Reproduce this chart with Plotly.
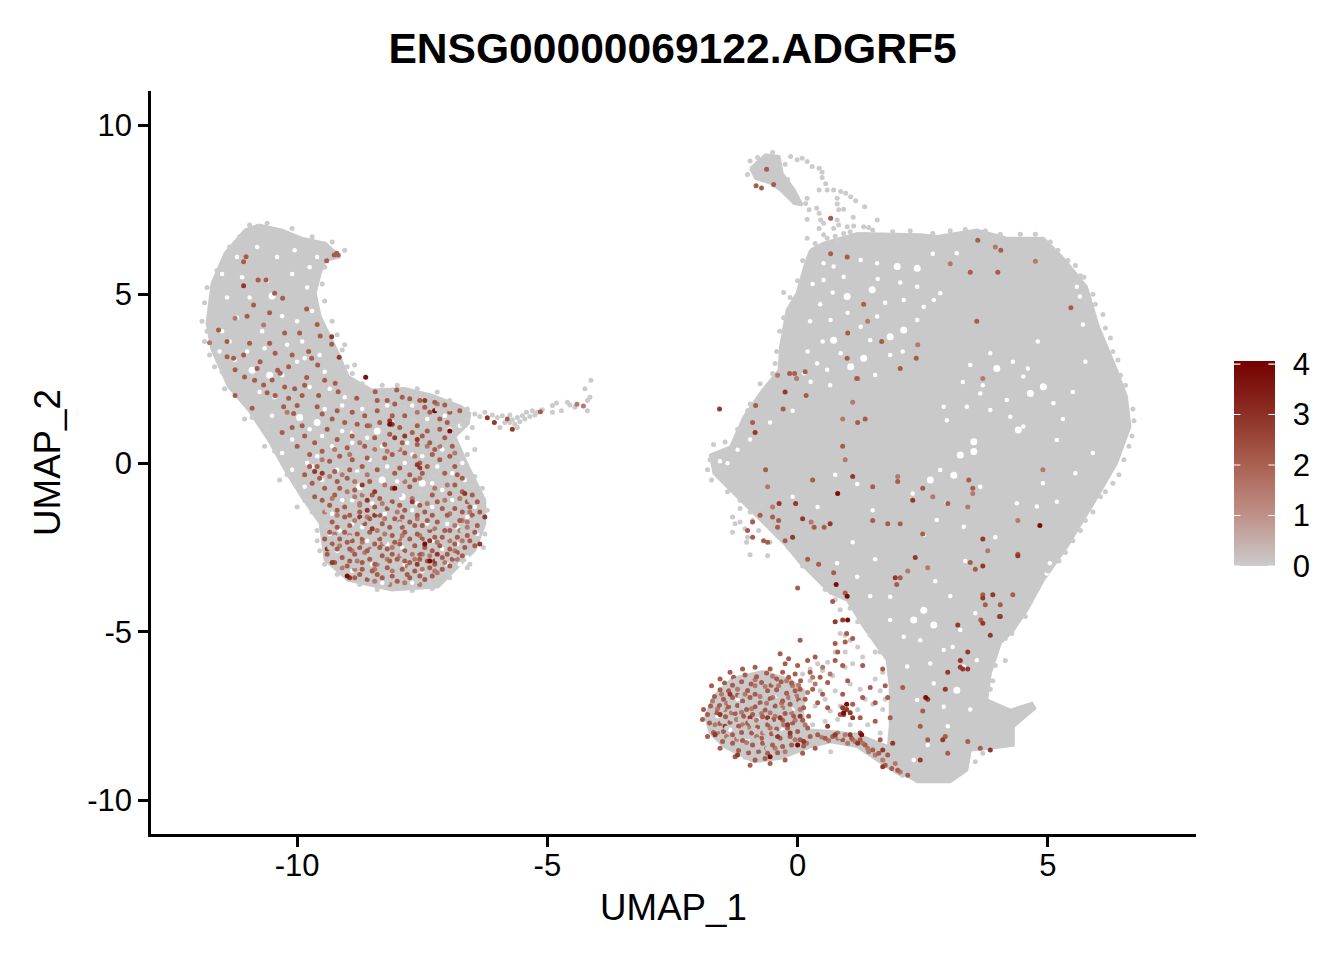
import plotly.graph_objects as go

TITLE = "ENSG00000069122.ADGRF5"
X_TICKS = [-10, -5, 0, 5]
Y_TICKS = [-10, -5, 0, 5, 10]
BAR_TICKS = [0, 1, 2, 3, 4]

# Outlines of the areas where unexpressing grey cells overlap completely (UMAP units, estimated)
left_outline = [(-10.77,7.05),(-10.30,6.90),(-9.91,6.66),(-9.44,6.51),(-9.14,6.11),(-9.44,6.0),(-9.54,5.62),(-9.64,5.03),
 (-9.54,4.34),(-9.37,3.84),(-9.18,3.25),(-8.98,2.56),(-8.51,2.16),(-7.85,2.21),(-7.31,2.01),(-6.72,1.67),(-6.55,1.47),
 (-6.58,1.17),(-6.85,0.78),(-6.58,-0.11),(-6.25,-1.10),(-6.25,-1.79),(-6.45,-2.58),(-6.85,-3.17),(-7.18,-3.67),(-8.11,-3.76),
 (-8.98,-3.47),(-9.44,-2.87),(-9.54,-1.79),(-9.91,-1.0),(-10.24,-0.21),(-10.57,0.68),(-10.97,1.57),(-11.37,2.26),(-11.70,3.35),
 (-11.80,4.14),(-11.70,5.32),(-11.44,6.21),(-11.04,6.90)]
main_outline = [(0.26,6.31),(0.52,6.51),(1.19,6.80),(2.45,6.76),(2.79,6.71),(3.58,6.90),(4.18,6.66),(4.91,6.66),(5.31,6.06),
 (5.77,5.22),(6.01,4.04),(6.37,2.76),(6.57,1.97),(6.64,1.08),(6.37,-0.01),(5.91,-1.19),(5.38,-2.48),(4.91,-3.47),(4.58,-4.36),
 (4.31,-4.95),(4.05,-5.34),(3.85,-6.23),(3.78,-7.02),(4.25,-7.32),(4.68,-7.12),(4.74,-7.27),(4.31,-7.81),(4.31,-8.36),(3.85,-8.45),
 (3.45,-8.50),(3.38,-9.10),(3.05,-9.44),(2.39,-9.44),(2.12,-9.2),(1.79,-8.8),(1.85,-7.81),(1.85,-6.63),(1.79,-5.84),(1.32,-4.85),
 (0.99,-4.06),(0.66,-3.86),(0.06,-2.97),(-0.27,-2.38),(-0.80,-1.59),(-1.27,-0.90),(-1.67,-0.31),(-1.74,0.24),(-1.34,0.48),
 (-1.07,1.37),(-0.70,2.16),(-0.37,2.75),(-0.34,3.45),(-0.21,4.53),(-0.01,5.03),(0.16,5.92)]
top_outline = [(-0.94,8.73),(-0.64,9.13),(-0.37,9.08),(-0.31,8.58),(-0.07,8.09),(0.09,7.64),(-0.07,7.69),(-0.34,8.09),(-0.54,8.29),(-0.84,8.43)]
blob_outline = [(-1.84,-7.52),(-1.67,-6.92),(-1.30,-6.38),(-0.70,-6.18),(-0.14,-6.43),(0.13,-6.75),(0.10,-7.4),(0.15,-7.9),(0.66,-7.95),
 (1.2,-8.05),(1.8,-8.4),(2.0,-8.9),(2.12,-9.3),(1.79,-9.0),(1.19,-8.4),(0.66,-8.26),(0.26,-8.40),(-0.34,-8.75),(-0.87,-8.85),(-1.47,-8.4),(-1.74,-8.01)]

# Individually visible grey cells
grey_cells = [
 # stalk above the main cluster
 (-0.14,9.08),(-0.01,8.98),(0.09,9.03),(0.19,8.93),(0.29,8.78),(0.43,8.73),(0.49,8.61),(0.49,8.46),(0.56,8.27),(0.43,8.09),
 (0.59,8.09),(0.72,8.09),(0.86,8.04),(0.96,7.99),(1.06,7.89),(1.16,7.77),(0.79,7.84),(0.79,7.67),(0.82,7.5),(0.92,7.52),
 (1.34,7.59),(1.59,7.2),(0.19,7.84),(0.16,7.69),(0.23,7.5),(0.38,7.55),(0.43,7.4),(0.66,7.25),(0.46,7.2),(0.19,7.22),
 (0.79,7.2),(1.11,7.28),(0.99,7.0),(1.12,7.02),(1.32,7.0),(1.42,6.98),(0.82,7.05),(0.92,6.8),(0.52,7.1),(0.43,6.95),
 (0.19,6.66),(0.52,6.76),(0.72,6.95),(0.59,6.66),(0.79,6.56),(-0.95,8.95),(-0.8,9.05),(-0.5,9.2),(-0.25,8.85),(-0.2,8.4),(-1.0,8.55),
 # tail of the left cluster
 (-6.45,1.45),(-6.35,1.38),(-6.25,1.5),(-6.1,1.42),(-6.0,1.35),(-5.9,1.4),(-5.75,1.42),(-5.6,1.35),(-5.5,1.4),(-5.42,1.5),
 (-5.3,1.55),(-5.2,1.5),(-5.1,1.58),(-5.85,1.2),(-5.7,1.28),(-5.55,1.22),(-5.95,1.05),(-5.6,1.05),(-4.9,1.7),(-4.82,1.78),
 (-4.6,1.8),(-4.55,1.72),(-4.45,1.65),(-4.9,1.5),(-4.72,1.55),(-4.2,1.55),(-4.2,1.85),(-4.25,2.2),(-4.13,2.45),(-4.15,1.95),
 (-6.6,1.3),(-6.7,1.15),(-6.5,1.05),(-6.9,0.9),(-6.6,0.75),(-6.85,0.55),(-5.65,1.15),(-5.75,1.2),(-5.45,1.3),(-5.35,1.38),(-5.25,1.42),
 # loose cells round the left cluster
 (-9.0,2.85),(-8.9,2.65),(-9.1,3.35),(-9.2,2.95),(-11.9,4.2),(-11.8,3.9),(-11.75,3.2),(-11.5,2.7),(-11.2,2.0),(-10.9,1.35),
 (-10.6,1.0),(-10.45,0.35),(-10.2,-0.35),(-10.05,-0.6),(-9.85,-1.1),(-9.7,-1.45),(-9.6,-2.0),(-9.45,-3.0),(-9.15,-3.25),
 (-6.25,-2.1),(-6.28,-2.5),(-6.3,-0.75),(-6.6,0.25),(-6.55,-3.0),(-9.4,-2.3),(-11.85,4.75),(-11.8,5.2),(-11.6,5.7),(-11.35,6.4),
 (-11.15,6.7),(-10.95,7.05),(-10.6,7.1),(-10.1,6.95),(-9.7,6.7),(-9.3,6.55),(-9.05,6.3),(-9.45,5.8),(-9.5,5.3),(-9.45,4.8),(-9.3,4.2),
 (-9.2,3.8),(-9.05,3.5),(-8.85,2.9),(-8.7,2.35),(-8.3,2.3),(-8.0,2.3),(-7.6,2.2),(-7.2,2.1),(-6.95,1.85),(-6.6,1.6),(-6.45,0.4),(-6.45,-0.4),
 (-6.2,-1.4),(-6.6,-3.1),(-6.95,-3.4),(-7.3,-3.72),(-7.7,-3.78),(-8.4,-3.75),(-8.75,-3.6),(-9.2,-3.3),(-9.55,-2.6),(-9.6,-2.3),(-10.0,-1.3),
 (-10.35,-0.5),(-10.65,0.5),(-11.05,1.3),(-11.45,2.2),(-11.65,2.85),(-11.85,3.6),
 # main-cluster edge
 (-1.68,0.55),(-1.75,0.1),(-1.8,-0.2),(-1.45,0.62),(-1.2,1.0),(-0.95,1.75),(-0.75,2.35),(-0.5,2.65),(-0.42,3.3),(-0.36,3.9),
 (-0.28,4.3),(-0.15,4.9),(0.0,5.4),(0.1,6.0),(6.7,1.6),(6.72,1.25),(6.68,0.8),(6.52,0.1),(6.3,-0.6),(6.05,-1.0),(5.75,-1.7),
 (5.5,-2.3),(5.22,-2.9),(5.0,-3.2),(4.8,-3.7),(4.65,-4.1),(4.55,-4.55),(4.28,-5.05),(4.15,-5.2),(4.15,-5.85),(3.95,-6.0),(3.9,-6.45),
 (3.85,-6.7),(3.7,-8.6),(3.55,-8.85),(6.15,4.0),(6.3,3.3),(6.45,2.6),(5.95,4.7),(5.65,5.55),(5.4,6.0),
 (0.35,6.5),(0.75,6.72),(1.05,6.85),(1.5,6.9),(1.9,6.85),(2.25,6.88),(2.7,6.8),(3.05,6.88),(3.35,6.92),(3.75,6.88),(4.05,6.78),(4.45,6.78),
 (4.75,6.78),(5.05,6.55),(5.2,6.3),(5.55,5.85),(5.72,5.5),(5.9,5.0),(6.1,4.4),(6.25,3.7),(6.4,3.05),(6.55,2.3),(6.62,0.5),(6.42,-0.35),
 (6.15,-0.85),(5.9,-1.45),(5.65,-2.0),(5.35,-2.65),(-0.45,2.95),(-0.28,5.05),(-1.0,1.55),(-1.42,0.4),(-1.72,-0.5),(-1.4,-0.85),(-1.15,-1.1),
 (-0.95,-1.45),(-0.55,-1.85),(-0.18,-2.5),(0.1,-3.05),(0.55,-3.75),(1.05,-4.3),(1.2,-4.7),(1.45,-5.1),(1.65,-5.6),(1.7,-6.2),(1.75,-7.0),
 # small patch to the left and loose cells of the lower neck
 (-1.3,-1.6),(-1.25,-1.8),(-1.3,-2.05),(-1.15,-1.75),(-1.05,-1.95),(-1.0,-2.2),(-0.9,-1.7),(-0.78,-2.0),(-1.02,-2.35),(-0.95,-2.72),
 (-0.6,-2.75),(-0.55,-2.35),(-0.4,-2.15),(-1.15,-1.35),(-0.72,-1.25),
 (0.25,-3.15),(0.45,-3.35),(0.75,-4.05),(0.85,-4.35),(0.95,-5.1),(0.85,-5.05),(1.05,-5.25),(1.2,-5.45),(0.95,-5.6),(0.75,-5.6),
 (0.6,-5.9),(0.4,-5.95),(0.25,-6.1),(0.1,-6.25),(0.25,-6.45),(0.5,-6.15),(0.7,-6.3),(0.95,-6.05),(1.1,-5.95),(1.3,-5.75),(1.55,-5.6),
 (1.05,-6.55),(1.25,-6.7),(1.55,-6.4),(1.65,-6.75),(1.35,-7.0),(1.2,-7.3),(1.5,-7.15),(1.7,-7.3),(1.05,-7.4),(0.85,-7.2),(0.55,-7.0),
 (0.35,-7.2),(0.65,-7.35),(0.3,-7.75),(0.55,-7.65),(0.8,-7.6),(1.05,-7.75),(1.4,-7.75),(1.65,-8.0),(0.66,-8.55),(0.45,-6.75),(0.75,-6.75),
]

# Holes showing the white page through the grey mass
wide_holes = [(-10.5,4.95),(-9.95,1.35),(-9.6,1.2),(-8.4,0.95),(-8.3,-0.5),(-8.75,-0.7),(-7.5,-0.6),(-7.9,-1.0),(-10.9,2.75),(-10.55,2.6),
 (0.99,4.93),(1.49,5.13),(1.32,3.10),(1.99,5.82),(2.39,5.77),(0.72,3.64),(1.85,3.74),(2.12,3.94),(3.98,2.80),(4.65,2.06),(4.91,2.26),
 (3.52,0.63),(3.52,0.34),(3.25,0.24),(4.41,0.98),(1.06,2.85),(3.12,-0.36),(2.65,-0.50),(2.32,-4.65),(2.72,-4.8),(3.18,-6.73),(2.52,-4.36)]
narrow_holes = [(-10.3,4.35),(-10.0,4.2),(-10.3,2.6),(-9.9,3.6),(-11.2,4.3),(-10.7,3.9),(-9.8,5.2),(-10.1,5.6),(-10.4,6.1),(-9.6,6.1),
 (-11.1,5.5),(-11.4,4.9),(-10.0,3.0),(-9.55,3.2),(-11.0,3.3),(-11.25,3.05),(-9.7,4.5),(-10.6,5.4),(-10.8,6.4),(-9.75,5.8),(-11.5,3.9),
 (-10.2,3.5),(-9.45,2.7),(-9.75,1.0),(-9.5,0.8),(-9.1,0.95),(-8.9,0.9),(-8.6,0.75),(-8.9,0.6),(-8.3,0.5),(-7.85,0.0),(-7.3,-0.6),
 (-7.6,-1.2),(-7.1,-0.8),(-6.9,-1.1),(-9.3,0.5),(-9.6,0.2),(-10.1,0.7),(-9.2,-0.2),(-9.5,-0.5),(-9.7,-0.1),(-8.9,-1.1),(-8.5,-1.2),
 (-8.25,-1.5),(-8.9,-1.8),(-8.7,-1.9),(-7.0,-1.8),(-6.8,-1.9),(-6.6,-1.6),(-7.3,-1.3),(-7.7,-1.4),(-6.8,-2.4),(-7.3,-2.3),(-7.9,-2.5),
 (-8.6,-2.3),(-9.2,-2.6),(-8.9,-3.2),(-8.1,-3.3),(-7.5,-3.2),(-7.0,-3.0),(-6.6,-2.8),(-9.1,-1.1),(-9.3,-1.5),(-7.5,0.2),(-7.1,0.4),
 (-6.9,-0.3),(-6.65,-0.5),(-7.8,0.6),(-8.1,1.2),(-7.4,1.3),(-6.95,1.0),(-8.7,1.6),(-9.1,1.7),(-9.45,1.6),(-7.7,1.7),(-8.2,-0.1),
 (-8.55,0.1),(-7.2,-0.1),(-10.5,1.4),(-10.3,0.3),(-10.1,-0.2),(-9.85,-0.7),(-9.35,-2.1),(-6.45,-1.3),(-6.4,-2.1),(-8.3,-3.55),(-7.7,-3.55),
 (-11.5,5.6),(-11.2,6.1),(-10.95,4.9),(-10.05,6.3),(-9.85,3.1),(-11.55,3.3),(-11.35,3.6),(-10.65,3.4),(-10.45,1.95),(-10.75,2.1),(-9.75,2.25),
 (-9.35,2.2),(-9.05,1.95),(-8.2,1.7),(-7.05,1.4),(-6.75,1.1),(-9.8,0.0),(-8.0,-0.55),(-8.8,-0.25),(-7.4,-1.8),(-8.2,-2.4),(-8.5,-3.0),(-7.1,-2.55),
 (-6.75,-3.0),(-7.85,-3.0),(-9.15,-2.0),(-6.55,-2.3),(-6.7,0.0),(-7.7,0.25),
 (1.45,3.64),(2.52,4.63),(2.85,5.03),(0.52,5.92),(0.72,5.82),(1.26,6.01),(1.59,5.92),(3.65,2.06),(4.18,1.87),(2.98,1.27),(3.85,1.57),
 (2.92,1.67),(3.38,1.67),(5.58,5.22),(5.64,4.93),(2.39,5.22),(2.12,4.83),(0.39,2.95),(0.59,2.76),(0.26,2.41),(1.55,2.61),(0.86,3.25),
 (0.13,2.66),(-1.2,0.39),(-1.4,-0.01),(3.18,6.21),(0.66,4.24),(1.59,4.34),(1.26,4.04),(2.39,4.24),(2.72,4.83),(3.85,3.25),(4.51,2.56),
 (4.51,1.08),(4.25,1.37),(5.11,1.77),(5.18,0.68),(0.92,5.52),(0.52,5.42),(1.19,-0.62),(2.85,-0.21),(4.78,-1.29),(4.38,-1.19),(5.18,-1.15),
 (2.52,-2.13),(3.32,-1.89),(2.78,-1.69),(2.98,-1.19),(2.05,-1.79),(1.85,-3.96),(2.12,-5.15),(1.85,-4.65),(3.25,-4.95),(2.45,-5.25),
 (2.92,-5.54),(2.65,-5.94),(2.72,-6.53),(3.32,-6.03),(3.58,-5.84),(2.39,-7.02),(2.92,-7.22),(2.19,-6.03),(5.04,-2.97),(4.98,-3.27),
 (0.79,-2.97),(1.19,-3.37),(2.32,-8.8),(-1.6,-7.5),(-1.2,-7.0),(-0.8,-7.6),(-0.4,-6.9),(-0.3,-7.9),(-1.0,-8.2),(-0.1,-7.3),(-1.35,-7.9),
 (0.3,5.3),(0.45,4.7),(0.7,5.05),(0.25,4.2),(0.5,3.6),(0.2,3.3),(1.75,4.75),(1.6,5.45),(2.05,5.35),(2.7,6.2),(1.85,3.2),(2.1,3.3),(1.0,4.45),
 (0.65,2.3),(-0.1,1.55),(-0.55,1.2),(-0.95,0.7),(-1.55,0.05),(3.3,2.4),(3.45,2.9),(3.7,2.3),(4.3,3.0),(4.6,2.8),(5.5,2.1),(5.75,3.0),(5.7,4.1),
 (4.8,3.6),(5.3,1.3),(5.9,0.3),(5.55,-0.3),(4.9,-0.6),(3.65,-0.7),(2.3,-0.9),(1.5,-1.4),(0.75,-0.35),(-0.1,-1.0),(0.4,-1.3),(1.1,-2.35),
 (3.95,-2.2),(3.35,-2.9),(2.75,-3.5),(1.55,-2.85),(1.45,-3.95),(3.55,-4.45),(3.05,-3.95),(3.1,-5.45),(3.45,-7.3),(3.0,-7.8),(2.6,-8.35)]

# Expressing cells, grouped by approximate expression level
faint_cells = [(-11.24,4.29),(-10.67,4.09),(-11.75,3.56),(-4.41,1.74),(-4.28,1.69),(-8.8,-2.9),(-8.1,-2.5),(-7.5,-2.7),(-6.75,-2.0),(-6.7,-1.7),
 (-6.95,-1.5),(-6.6,-1.9),(-8.85,-1.0),(-8.75,-1.2),(-8.7,-0.95),(-8.4,-2.0),(-8.25,-2.1),(-7.95,-2.25),(-8.65,-2.65),(-9.1,-3.1),
 (-7.25,-3.2),(-6.85,-2.6),(-8.4,-3.0),(-7.7,-2.7),(-9.45,-1.45),(-10.2,1.5),(-7.6,1.5),(-7.2,1.75),(-8.55,1.1),
 (-1.2,-6.7),(-0.85,-6.6),(-0.5,-6.95),(-0.3,-7.25),(-1.45,-7.3),(-1.1,-7.75),(-0.7,-8.0),(-0.1,-6.6),(-0.02,-6.9),(0.3,-6.35),(0.5,-6.05),
 (0.65,-6.25),(-1.65,-7.75),(-0.55,-7.4),(0.2,-6.8),(0.35,-6.55),(1.0,-8.3),(1.15,-8.25),(1.4,-8.45),(1.55,-8.65),(1.7,-8.8),(1.95,-8.9),
 (2.05,-9.15),(0.8,-8.0),(0.95,-8.05),
 (-0.6,-0.7),(-0.5,-1.3),(0.27,-1.75),(0.95,0.1),(2.0,-0.4),(2.7,-1.0),(3.4,-1.3),(3.5,-0.9),(4.75,5.98),(3.95,6.4),(3.05,5.9),
 (-0.02,2.5),(-0.4,2.6),(0.9,1.3),(1.1,1.8),(1.2,2.5),(1.4,4.2),(2.4,3.5),(3.7,2.5),(4.4,-1.7),(4.9,-0.2),(3.8,-2.6),(2.6,-3.1),(2.2,-3.2),
 # second pass over the densest expressing areas
 (-1.7,-7.05),(-1.6,-7.28),(-1.52,-6.85),(-1.42,-7.12),(-1.32,-7.4),(-1.22,-7.6),(-1.12,-7.38),(-1.05,-6.85),(-0.98,-7.82),(-0.92,-7.28),(-0.85,-6.42),
 (-0.82,-7.62),(-0.75,-6.92),(-0.72,-7.42),(-0.65,-6.62),(-0.62,-7.12),(-0.55,-7.85),(-0.5,-6.32),(-0.45,-7.5),(-0.38,-6.6),(-0.32,-7.12),(-0.28,-7.75),
 (-0.22,-6.45),(-0.18,-6.95),(-0.12,-7.4),(-0.05,-7.62),(0.02,-6.58),(0.05,-7.3),(0.15,-7.75),(-1.6,-8.0),(-1.42,-8.1),(-1.22,-8.18),(-1.02,-8.28),
 (-0.82,-8.1),(-0.62,-8.45),(-0.45,-8.45),(-0.25,-8.55),(-0.05,-8.2),(0.18,-8.3),(0.48,-8.12),(0.62,-8.22),(0.8,-8.15),(1.1,-8.2),(1.3,-8.3),(1.42,-8.55),
 (-9.5,0.1),(-9.25,0.4),(-8.95,0.25),(-8.75,0.6),(-8.45,0.4),(-8.2,0.35),(-7.95,0.4),(-7.65,0.2),(-7.4,0.5),(-7.15,0.5),(-6.85,0.3),(-9.35,-0.4),(-9.1,-0.35),
 (-8.85,-0.55),(-8.6,-0.35),(-8.25,-0.65),(-7.85,-0.55),(-7.55,-0.45),(-7.25,-0.75),(-7.0,-0.65),(-6.75,-1.05),(-9.3,-1.05),(-9.0,-0.85),(-8.75,-1.25),
 (-8.3,-1.2),(-8.0,-1.45),(-7.7,-1.05),(-7.4,-1.2),(-7.05,-1.1),(-6.55,-1.45),(-9.2,-1.55),(-8.85,-1.7),(-8.6,-1.6),(-8.25,-1.65),(-7.95,-1.75),(-7.6,-1.65),
 (-7.25,-1.95),(-6.85,-1.85),(-6.6,-1.75),(-9.25,-2.1),(-8.95,-2.15),(-8.7,-2.35),(-8.3,-2.4),(-7.9,-2.15),(-7.55,-2.15),(-7.2,-2.35),(-6.95,-2.3),(-6.7,-2.3),
 (-9.15,-2.45),(-8.9,-2.6),(-8.55,-2.55),(-8.2,-2.85),(-7.95,-2.75),(-7.65,-2.85),(-7.35,-2.75),(-7.05,-2.95),(-6.8,-2.85),(-8.85,-3.15),(-8.45,-3.15),(-8.1,-3.2),
 (-7.8,-3.05),(-7.5,-3.15),(-7.2,-3.25),(-8.45,-3.5),(-8.15,-3.6),(-7.85,-3.55),(-7.55,-3.6)]
mid_cells = [(-11.02,6.11),(-11.07,5.96),(-10.78,5.42),(-10.62,5.42),(-10.45,5.03),(-10.29,4.88),(-9.81,4.56),(-10.87,4.68),(-11.57,3.94),
 (-9.54,3.76),(-9.77,3.30),(-9.31,3.52),(-9.71,3.10),(-9.59,2.90),(-9.81,2.53),(-10.1,3.2),(-10.44,3.25),(-10.74,3.0),(-11.07,3.2),
 (-11.27,3.1),(-11.24,2.76),(-10.8,2.8),(-10.34,2.66),(-10.39,2.75),(-10.5,2.46),(-10.67,2.31),(-10.17,2.85),(-10.6,2.08),(-10.44,2.0),
 (-11.24,2.0),(-10.9,1.62),(-10.17,1.92),(-9.9,2.0),(-10.27,1.67),(-10.07,1.47),(-9.57,2.0),(-9.6,1.67),(-9.24,2.36),(-9.18,2.11),
 (-8.81,1.92),(-8.44,2.11),(-8.01,2.16),(-5.8,1.3),(-5.14,1.52),(-9.41,5.99),(-9.21,6.21),(-9.18,6.16),(-9.26,6.16),
 (-8.2,1.85),(-7.9,1.95),(-7.75,1.9),(-7.55,1.85),(-7.25,1.8),(-7.05,1.72),(-6.75,1.55),(-8.9,1.5),(-8.65,1.4),(-8.4,1.55),(-8.1,1.4),
 (-7.85,1.4),(-7.6,1.1),(-7.35,1.5),(-7.15,1.3),(-6.95,1.5),(-9.3,1.3),(-9.05,1.2),(-8.8,1.15),(-8.35,1.2),(-7.95,1.05),(-7.7,0.9),
 (-7.4,0.95),(-7.15,1.0),(-10.1,1.05),(-9.85,0.8),(-10.0,0.5),(-9.65,0.6),(-9.4,1.0),(-9.2,0.7),(-9.0,0.45),(-8.65,0.5),(-8.45,0.75),
 (-8.15,0.85),(-7.9,0.6),(-7.6,0.55),(-7.35,0.6),(-7.05,0.75),(-6.9,0.5),(-8.1,0.25),(-7.85,0.3),(-7.55,0.0),(-7.3,0.25),(-6.95,0.2),
 (-9.85,-0.35),(-9.6,-0.1),(-9.35,0.05),(-9.15,0.2),(-8.9,0.1),(-8.7,-0.1),(-8.4,-0.2),(-8.05,-0.3),(-7.75,-0.35),(-7.5,-0.3),(-7.05,-0.3),
 (-6.85,-0.1),(-6.7,-0.45),(-9.7,-0.6),(-9.45,-0.75),(-9.2,-0.55),(-9.0,-0.45),(-8.55,-0.55),(-8.1,-0.75),(-7.75,-0.7),(-7.3,-0.95),
 (-6.85,-0.65),(-6.7,-0.85),(-6.5,-0.95),(-6.4,-1.15),(-6.55,-1.3),(-9.5,-1.1),(-9.25,-0.95),(-9.05,-1.3),(-8.75,-1.45),(-8.5,-0.95),
 (-8.1,-1.15),(-7.85,-1.4),(-7.45,-1.45),(-7.1,-1.35),(-6.85,-1.35),(-6.5,-1.55),(-6.35,-1.45),(-9.3,-1.75),(-9.05,-1.6),(-8.55,-1.65),
 (-8.3,-1.8),(-8.05,-1.65),(-7.75,-1.75),(-7.5,-1.85),(-7.2,-1.75),(-6.95,-2.0),(-6.45,-2.05),(-6.4,-1.85),(-9.35,-2.05),(-9.05,-2.05),
 (-8.8,-2.1),(-8.55,-2.05),(-8.1,-2.15),(-7.85,-2.05),(-7.6,-2.1),(-7.35,-2.0),(-7.1,-2.2),(-6.8,-2.2),(-6.6,-2.15),(-9.3,-2.4),(-9.0,-2.35),
 (-8.75,-2.5),(-8.45,-2.4),(-8.2,-2.55),(-7.95,-2.4),(-7.65,-2.45),(-7.45,-2.5),(-7.15,-2.45),(-6.95,-2.55),(-6.65,-2.5),(-6.45,-2.45),
 (-9.4,-2.7),(-9.1,-2.8),(-8.85,-2.7),(-8.55,-2.85),(-8.3,-2.75),(-8.0,-2.85),(-7.75,-2.95),(-7.4,-2.9),(-7.1,-2.8),(-6.9,-2.85),(-6.7,-2.75),
 (-9.0,-3.05),(-8.7,-3.15),(-8.5,-3.2),(-8.2,-3.1),(-7.9,-3.15),(-7.65,-3.2),(-7.35,-3.1),(-7.1,-3.15),(-8.85,-3.4),(-8.6,-3.45),(-8.3,-3.4),
 (-8.0,-3.5),(-7.75,-3.4),(-7.45,-3.45),
 # extra cells among the lower left body
 (-9.75,0.25),(-9.55,-0.45),(-9.25,-0.25),(-8.95,-0.2),(-8.6,0.15),(-8.25,0.15),(-7.95,-0.15),(-7.65,-0.5),(-7.4,-0.1),(-7.15,0.1),(-6.8,-0.35),
 (-9.65,-1.0),(-9.35,-1.25),(-9.15,-0.75),(-8.85,-0.8),(-8.35,-1.05),(-7.95,-1.25),(-7.55,-1.25),(-7.2,-1.15),(-6.95,-0.9),(-6.6,-1.15),
 (-9.2,-1.4),(-8.95,-1.55),(-8.45,-1.3),(-8.2,-1.35),(-7.9,-1.6),(-7.6,-1.55),(-7.3,-1.55),(-7.0,-1.55),(-6.7,-1.45),(-9.2,-1.9),(-8.95,-1.85),
 (-8.65,-1.8),(-8.35,-1.55),(-8.15,-1.9),(-7.9,-1.9),(-7.65,-1.85),(-7.4,-1.7),(-7.05,-2.0),(-6.75,-1.7),(-9.45,-2.25),(-9.15,-2.25),(-8.9,-2.3),
 (-8.7,-2.25),(-8.35,-2.25),(-8.05,-2.35),(-7.75,-2.25),(-7.5,-2.25),(-7.25,-2.2),(-6.85,-2.4),(-6.55,-2.3),(-9.2,-2.55),(-8.95,-2.55),(-8.6,-2.6),
 (-8.35,-2.5),(-8.1,-2.7),(-7.85,-2.6),(-7.55,-2.7),(-7.3,-2.6),(-7.0,-2.7),(-6.8,-2.65),(-9.25,-2.95),(-8.95,-2.9),(-8.7,-2.95),(-8.45,-3.0),
 (-8.15,-2.9),(-7.85,-2.9),(-7.55,-2.85),(-7.25,-3.0),(-6.95,-3.05),(-8.75,-3.3),(-8.4,-3.3),(-8.1,-3.35),(-7.8,-3.3),(-7.55,-3.35),(-7.3,-3.35),
 (-8.4,1.85),(-8.05,1.75),(-7.45,1.65),(-7.0,1.2),(-8.6,1.1),(-8.9,0.8),(-8.25,0.55),(-7.5,0.8),(-7.25,0.4),(-9.5,0.35),(-9.75,-0.1),(-10.3,0.9),
 (-9.9,1.1),(-9.5,1.45),(-9.2,1.55),(-10.0,1.7),(-9.85,2.3),(-9.45,2.45),(-10.05,2.2),(-10.25,2.25),(-10.85,2.45),(-11.05,2.55),(-10.95,3.55),
 (-10.55,3.55),(-10.25,3.85),(-9.95,3.85),(-9.6,4.1),(-10.55,4.45),(-11.0,4.35),(-11.4,3.6),(-11.4,3.15),
 # top of the main cluster and scattered main-cluster cells
 (-0.62,8.7),(-0.83,8.21),(-0.72,8.15),(-0.48,8.25),(0.66,7.25),(0.66,6.2),(0.99,6.1),(1.32,4.7),(1.0,3.85),(1.68,3.6),(0.99,3.1),(2.05,2.8),
 (2.37,3.1),(-0.16,2.65),(-0.06,2.65),(0.15,2.7),(1.18,2.5),(0.17,2.0),(-0.84,1.7),(-0.29,1.6),(-0.9,1.2),(1.35,1.3),(1.2,1.2),(0.9,0.5),
 (3.6,6.6),(4.06,6.3),(3.45,5.65),(4.0,5.65),(3.58,4.2),(5.46,4.6),(-0.64,-0.2),(0.3,-0.5),(2.0,-0.55),(2.5,-0.75),(3.42,-0.5),(3.5,-0.75),
 (3.0,-1.2),(1.5,-0.7),(0.33,-1.9),(-0.5,-1.6),(-0.38,-1.7),(0.53,-1.9),(1.5,-1.7),(1.8,-1.8),(2.05,-1.8),(2.5,-2.1),(4.4,-2.7),(3.55,-3.15),
 (3.45,-2.95),(2.05,-3.4),(1.98,-3.6),(3.7,-3.9),(4.3,-3.9),(3.75,-4.2),(4.05,-4.2),(4.03,-4.55),(3.66,-4.65),(0.72,-3.25),(0.2,-2.85),
 (-0.9,-1.75),(-0.75,-1.55),(-1.0,-2.0),(-0.9,-2.2),(-0.68,-2.3),(-0.6,-2.35),(-0.4,-1.9),(-0.25,-2.3),(0.42,-3.0),(0.0,-3.7),
 (0.95,-3.85),(0.7,-4.1),(0.75,-5.35),(0.05,-5.25),(0.95,-5.3),(1.1,-5.2),(0.98,-5.05),(0.8,-5.6),(-0.35,-5.65),(-0.25,-5.95),(-0.18,-5.8),
 (0.0,-6.0),(0.2,-5.85),(0.35,-5.75),(0.75,-5.85),(0.9,-6.0),(1.3,-6.0),(1.7,-6.1),(1.0,-6.45),(1.45,-6.65),(1.75,-6.6),(1.8,-6.95),(2.1,-6.65),
 (0.9,-6.85),(1.1,-7.15),(1.3,-6.95),(1.55,-7.1),(0.15,-7.0),(0.4,-7.1),(0.6,-7.25),(0.85,-7.45),(1.25,-7.55),(1.55,-7.65),(1.85,-7.55),
 (2.5,-7.35),(2.45,-7.8),(2.95,-8.1),(3.0,-8.6),(3.4,-8.25),(3.65,-8.45),(2.6,-8.2),(1.65,-8.2),
 # lower expressing blob
 (-1.28,-6.35),(-1.05,-6.28),(-0.82,-6.33),(-0.62,-6.22),(-0.42,-6.4),(-0.18,-6.35),(-1.46,-6.52),(-1.3,-6.58),(-1.12,-6.48),(-0.93,-6.55),
 (-0.72,-6.5),(-0.53,-6.58),(-0.33,-6.48),(-0.12,-6.52),(0.06,-6.45),(-1.55,-6.72),(-1.38,-6.75),(-1.2,-6.88),(-1.0,-6.74),(-0.85,-6.85),
 (-0.6,-6.75),(-0.42,-6.72),(-0.22,-6.82),(-0.05,-6.75),(-1.66,-6.92),(-1.48,-7.0),(-1.3,-6.95),(-1.1,-7.05),(-0.95,-6.95),(-0.75,-7.1),
 (-0.55,-6.98),(-0.3,-7.05),(-0.15,-7.15),(0.02,-7.02),(-1.74,-7.2),(-1.56,-7.18),(-1.38,-7.22),(-1.2,-7.18),(-1.02,-7.3),(-0.85,-7.22),
 (-0.65,-7.32),(-0.45,-7.2),(-0.25,-7.42),(-0.08,-7.5),(-1.8,-7.45),(-1.62,-7.4),(-1.44,-7.52),(-1.25,-7.42),(-1.08,-7.5),(-0.9,-7.45),
 (-0.7,-7.52),(-0.48,-7.6),(-0.3,-7.62),(-0.1,-7.7),(0.1,-7.62),(-1.76,-7.7),(-1.55,-7.72),(-1.35,-7.68),(-1.18,-7.8),(-1.0,-7.7),(-0.8,-7.82),
 (-0.6,-7.75),(-0.42,-7.88),(-0.2,-7.85),(0.0,-7.95),(0.2,-7.85),(-1.68,-7.98),(-1.48,-7.95),(-1.3,-8.05),(-1.12,-7.98),(-0.92,-8.0),
 (-0.72,-8.15),(-0.52,-8.02),(-0.35,-8.15),(-0.15,-8.1),(0.05,-8.2),(0.25,-8.1),(-1.5,-8.25),(-1.3,-8.3),(-1.1,-8.22),(-0.9,-8.35),(-0.7,-8.3),
 (-0.5,-8.35),(-0.3,-8.4),(-0.12,-8.35),(0.12,-8.38),(-1.18,-8.52),(-0.98,-8.58),(-0.78,-8.55),(-0.6,-8.6),(-0.4,-8.58),(-0.85,-8.8),(-0.65,-8.75),
 (0.4,-8.05),(0.55,-8.15),(0.7,-8.1),(0.9,-8.2),(1.08,-8.15),(1.25,-8.2),(1.35,-8.35),(1.5,-8.5),(1.62,-8.6),(1.8,-8.65),(1.75,-8.95),(1.88,-9.05),
 (2.0,-9.1),(2.2,-9.25),(0.25,-6.2),(0.45,-6.35),(0.6,-6.5),(0.3,-6.7),(0.5,-6.85),
 (-1.72,-6.6),(-1.88,-7.3),(-1.9,-7.6),(-1.8,-8.1),(-1.55,-8.45),(-1.25,-8.7),(-0.95,-8.95),(-0.55,-8.9),(-0.25,-8.8),(0.1,-8.6),(0.35,-8.45),
 (-1.55,-6.4),(-1.35,-6.2),(-1.1,-6.1),(-0.85,-6.05),(-0.55,-6.1),(-0.3,-6.2),(-0.05,-6.25),(0.05,-6.7),(0.12,-7.25),(0.22,-7.5)]
strong_cells = [(-11.07,5.25),(-9.31,3.74),(-9.16,3.13),(-6.2,1.34),(-6.06,1.2),(-5.7,1.0),(-7.45,1.85),(-7.25,1.55),(-8.15,1.25),(-8.1,1.15),
 (-7.6,0.7),(-7.85,0.8),(-8.05,0.75),(-9.65,-0.25),(-9.5,-0.3),(-8.7,-0.65),(-8.45,-0.85),(-8.6,-1.1),(-7.55,-0.15),(-7.6,-0.05),(-6.65,-0.9),
 (-8.75,-1.6),(-8.45,-1.55),(-8.6,-1.4),(-8.5,-1.95),(-7.7,-1.15),(-7.25,-2.9),(-7.2,-2.7),(-9.4,-2.55),(-9.3,-2.95),(-8.95,-3.4),(-7.35,-2.3),
 (-7.6,-3.0),(-6.35,-2.4),(-6.25,-1.6),
 (-1.56,1.6),(-0.85,0.9),(-0.25,2.1),(-0.04,-1.2),(-0.37,-1.2),(0.1,-1.65),(2.3,-1.1),(1.1,-0.4),(2.35,-2.8),(3.7,-2.25),(4.4,-2.75),
 (3.7,-3.05),(1.95,-3.4),(3.7,-4.0),(3.9,-3.9),(-0.1,-2.2),(0.65,-1.8),(0.9,-4.65),(0.75,-4.7),(3.2,-4.8),(3.7,-4.75),(4.05,-4.55),
 (3.85,-5.1),(3.4,-5.6),(3.25,-6.05),(3.25,-5.85),(3.0,-6.2),(3.4,-6.1),(2.95,-6.7),(2.6,-7.0),(3.3,-6.1),(3.85,-8.5),(2.45,-8.8),(2.9,-8.2),
 (0.9,-7.25),(0.98,-7.3),(0.92,-7.45),(1.05,-7.4),(1.1,-7.55),(0.6,-7.8),(0.75,-8.05),(1.05,-8.05),(1.2,-8.3),(1.25,-8.0),(1.7,-8.5),(1.9,-8.3),
 (-1.35,-6.85),(-0.95,-7.55),(-0.6,-7.55),(-0.35,-7.55),(-1.55,-7.45),(-1.65,-8.05),(-1.2,-8.65),(-0.4,-8.1),(-0.15,-8.0),(0.12,-8.25),(-1.45,-7.8),
 (-0.2,-7.75),(0.05,-7.5),(1.7,-9.0)]
peak_cells = [(-8.63,2.54),(-7.25,1.55),(-8.15,1.15),(-7.35,-2.9),(-7.45,-2.4),(-8.05,-0.75),(-9.0,-3.35),(-6.95,0.95),
 (4.84,-1.85),(0.77,-3.6),(0.99,-3.95),(1.0,-4.65),(0.8,-0.9),(0.92,-7.4),(0.98,-7.15),(0.0,-8.35),(2.56,-6.95),(-0.55,-8.7),(1.28,-8.05)]

# Grey cells plotted over the expressing ones, partly hiding them
covering_cells = [(-9.6,0.45),(-9.4,0.3),(-9.1,0.35),(-8.8,0.3),(-8.5,0.3),(-8.0,0.45),(-7.7,0.5),(-7.45,0.35),(-7.2,0.6),(-9.45,-0.15),(-9.05,-0.1),
 (-8.8,-0.35),(-8.2,-0.35),(-7.9,-0.45),(-7.6,-0.25),(-7.25,-0.4),(-6.95,-0.5),(-6.75,-0.7),(-9.35,-0.6),(-9.1,-0.95),(-8.65,-0.85),(-8.25,-0.9),
 (-7.95,-0.95),(-7.55,-0.85),(-7.15,-0.55),(-6.95,-1.2),(-6.55,-1.1),(-9.4,-1.4),(-9.15,-1.2),(-8.85,-1.35),(-8.4,-1.45),(-8.15,-1.25),(-7.8,-1.55),
 (-7.5,-1.65),(-7.2,-1.45),(-6.85,-1.55),(-6.45,-1.65),(-9.4,-1.85),(-9.15,-1.7),(-8.7,-1.7),(-8.4,-1.85),(-7.95,-1.8),(-7.7,-2.05),(-7.35,-1.9),
 (-7.0,-2.2),(-6.7,-2.0),(-9.25,-2.2),(-8.95,-2.2),(-8.65,-2.15),(-8.4,-2.15),(-8.0,-2.2),(-7.55,-2.35),(-7.2,-2.05),(-6.9,-2.15),(-9.35,-2.5),(-9.05,-2.65),
 (-8.8,-2.4),(-8.5,-2.6),(-8.25,-2.35),(-7.9,-2.7),(-7.6,-2.6),(-7.35,-2.45),(-7.05,-2.4),(-6.85,-2.75),(-9.15,-3.0),(-8.85,-3.05),(-8.6,-3.0),(-8.35,-2.9),
 (-8.05,-3.05),(-7.75,-3.1),(-7.5,-3.0),(-7.2,-2.85),(-7.0,-3.25),(-8.55,-3.35),(-8.2,-3.25),(-7.95,-3.35),(-7.6,-3.5),(-7.35,-3.55),(-8.2,-3.55),(-7.95,-3.65),
 (-8.3,1.65),(-8.0,1.55),(-7.7,1.3),(-7.45,1.15),(-7.2,1.6),(-6.95,1.6),(-8.55,0.9),(-8.85,0.95),(-9.2,0.95),(-7.85,1.65),(-8.55,1.75),(-9.1,1.45),
 (-1.45,-6.65),(-1.25,-6.45),(-0.98,-6.4),(-0.75,-6.65),(-0.48,-6.5),(-0.25,-6.65),(-1.6,-7.05),(-1.35,-7.1),(-1.15,-6.92),(-0.85,-7.0),(-0.65,-6.88),(-0.38,-6.88),
 (-0.1,-6.95),(-1.7,-7.35),(-1.5,-7.28),(-1.28,-7.3),(-1.12,-7.18),(-0.92,-7.12),(-0.72,-7.22),(-0.52,-7.1),(-0.35,-7.32),(-0.16,-7.3),(-1.7,-7.55),(-1.5,-7.65),
 (-1.32,-7.58),(-1.15,-7.6),(-0.95,-7.65),(-0.75,-7.7),(-0.55,-7.65),(-0.38,-7.72),(-0.15,-7.6),(-1.6,-7.88),(-1.42,-7.85),(-1.22,-7.92),(-1.05,-7.85),(-0.85,-7.92),
 (-0.65,-7.95),(-0.45,-7.98),(-0.28,-7.98),(-0.08,-7.85),(-1.55,-8.1),(-1.38,-8.18),(-1.18,-8.12),(-1.0,-8.12),(-0.8,-8.2),(-0.62,-8.25),(-0.42,-8.25),(-0.25,-8.25),
 (-1.4,-8.4),(-1.2,-8.35),(-1.0,-8.45),(-0.8,-8.42),(-0.6,-8.45),(-1.05,-8.72),(-0.75,-8.68),(0.5,-8.0),(0.85,-8.1),(1.15,-8.05),(1.45,-8.3),(1.6,-8.4),(0.05,-7.1),(0.0,-7.8)]

CELL_GROUPS = [(faint_cells, 1.5), (mid_cells, 2.1), (strong_cells, 2.85), (peak_cells, 3.8)]
GREY = "#C9C9C9"
FONT = "Liberation Sans"
BAR_MAX = 4.06
DOT = 5

fig = go.Figure()
for outline in (left_outline, main_outline, top_outline, blob_outline):
    fig.add_trace(go.Scatter(x=[p[0] for p in outline] + [outline[0][0]], y=[p[1] for p in outline] + [outline[0][1]],
                             mode="lines", fill="toself", fillcolor=GREY, line=dict(color=GREY, width=3), hoverinfo="skip"))
for holes, size in ((wide_holes, 7), (narrow_holes, 4.5)):
    fig.add_trace(go.Scatter(x=[p[0] for p in holes], y=[p[1] for p in holes], mode="markers",
                             marker=dict(color="white", size=size, line=dict(width=0)), hoverinfo="skip"))
fig.add_trace(go.Scatter(x=[p[0] for p in grey_cells], y=[p[1] for p in grey_cells], mode="markers",
                         marker=dict(color=[0] * len(grey_cells), coloraxis="coloraxis", size=DOT, line=dict(width=0))))
for cells, level in CELL_GROUPS:
    fig.add_trace(go.Scatter(x=[p[0] for p in cells], y=[p[1] for p in cells], mode="markers",
                             marker=dict(color=[level] * len(cells), coloraxis="coloraxis", size=DOT, line=dict(width=0))))
fig.add_trace(go.Scatter(x=[p[0] for p in covering_cells], y=[p[1] for p in covering_cells], mode="markers",
                         marker=dict(color=[0] * len(covering_cells), coloraxis="coloraxis", size=DOT, line=dict(width=0))))

# Colour-bar ticks: white segments on both edges of the bar
bar_left = 1.0363
bar_bottom = 0.3607
bar_height = 205 / 743
annotations = []
for v in BAR_TICKS:
    y_pos = bar_bottom + bar_height * v / BAR_MAX
    annotations.append(dict(xref="paper", yref="paper", x=bar_left, y=y_pos, ax=8, ay=0, text="",
                            showarrow=True, arrowhead=0, arrowwidth=1.2, arrowcolor="white"))
    annotations.append(dict(xref="paper", yref="paper", x=bar_left + 41 / 1047, y=y_pos, ax=-8, ay=0, text="",
                            showarrow=True, arrowhead=0, arrowwidth=1.2, arrowcolor="white"))

fig.update_layout(
    width=1336, height=952, showlegend=False, plot_bgcolor="white", paper_bgcolor="white",
    margin=dict(l=143, r=148, t=83, b=126, pad=0), annotations=annotations,
    font=dict(family=FONT, color="black", size=31),
    title=dict(text=f"<b>{TITLE}</b>", x=664.5 / 1336, xanchor="center", y=1 - 40 / 952, yanchor="middle",
               font=dict(family=FONT, size=42.6, color="black")),
    coloraxis=dict(cmin=0, cmax=BAR_MAX,
                   colorscale=[[0, "#CBCBCB"], [0.25, "#BF9088"], [0.5, "#A96050"], [0.75, "#8C2E24"], [1, "#740000"]],
                   colorbar=dict(x=bar_left, xanchor="left", xpad=0, y=bar_bottom, yanchor="bottom", ypad=0, len=205, lenmode="pixels",
                                 thickness=41, thicknessmode="pixels", outlinewidth=0, tickvals=BAR_TICKS, ticks="outside",
                                 ticklen=12, tickwidth=1, tickcolor="rgba(0,0,0,0)",
                                 tickfont=dict(family=FONT, size=31, color="black"))),
    xaxis=dict(range=[-12.92, 7.96], tickvals=X_TICKS, ticktext=[str(v) for v in X_TICKS], ticks="outside", ticklen=10, tickwidth=2.6,
               tickcolor="black", showgrid=False, zeroline=False, showline=True, linecolor="black", linewidth=2.6,
               title=dict(text="UMAP_1", font=dict(size=36.7), standoff=13), tickfont=dict(size=31), ticklabelstandoff=-8),
    yaxis=dict(range=[-10.99, 11.02], tickvals=Y_TICKS, ticktext=[str(v) for v in Y_TICKS], ticks="outside", ticklen=10, tickwidth=2.6,
               tickcolor="black", showgrid=False, zeroline=False, showline=True, linecolor="black", linewidth=2.6,
               title=dict(text="UMAP_2", font=dict(size=36.7), standoff=16), tickfont=dict(size=31)),
)
fig.write_html("out.html")
